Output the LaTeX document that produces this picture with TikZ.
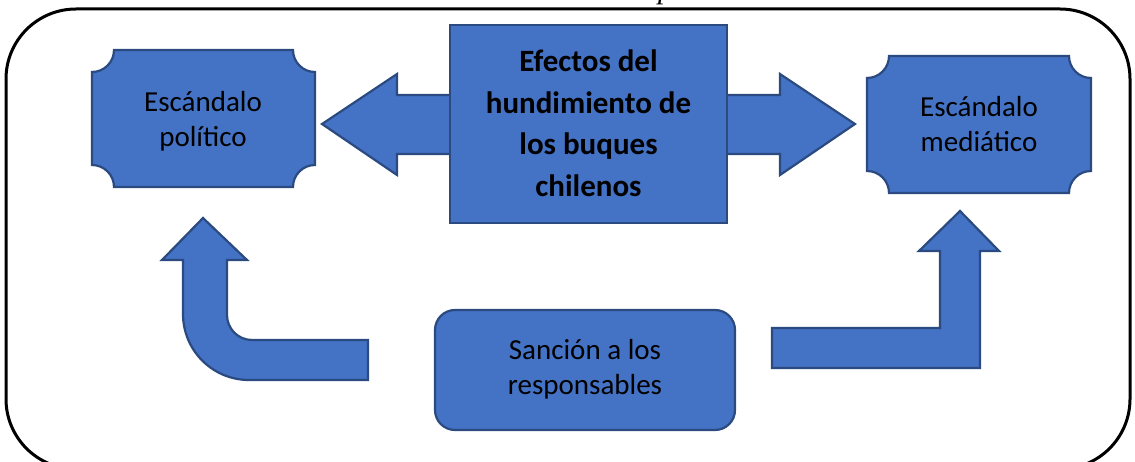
\documentclass[tikz,border=0pt]{standalone}
\usepackage{fontspec}
\setmainfont{Carlito}
\newfontfamily\serifit{Liberation Serif}
\definecolor{boxfill}{HTML}{4472C4}
\definecolor{boxline}{HTML}{2A4A80}
\begin{document}
\begin{tikzpicture}[x=1pt,y=-1pt,
  shapeblue/.style={fill=boxfill,draw=boxline,line width=2.2pt,line join=miter},
  txt/.style={align=center,inner sep=0pt,font=\fontsize{29}{35}\selectfont},
  boldtxt/.style={align=center,inner sep=0pt,font=\fontsize{31}{41.5}\selectfont\bfseries}]
\useasboundingbox (0,0) rectangle (1135,462);
% outer frame
\draw[line width=3pt,rounded corners=70pt] (6,9) rectangle (1130,469);
% cut-off italic letter above the frame
\node[anchor=base west,inner sep=0pt,font=\fontsize{30}{30}\selectfont\serifit\itshape] (ptop) at (658,-1.5) {p};
% left plaque
\draw[shapeblue] (92,72) arc[start angle=90,end angle=0,radius=22] -- (293,50)
  arc[start angle=180,end angle=90,radius=22] -- (315,165)
  arc[start angle=270,end angle=180,radius=22] -- (114,187)
  arc[start angle=0,end angle=-90,radius=22] -- cycle;
\node[txt] (pol) at (203,121) {Escándalo\\político};
% right plaque
\draw[shapeblue] (867,78) arc[start angle=90,end angle=0,radius=22] -- (1069,56)
  arc[start angle=180,end angle=90,radius=22] -- (1091,171)
  arc[start angle=270,end angle=180,radius=22] -- (889,193)
  arc[start angle=0,end angle=-90,radius=22] -- cycle;
\node[txt] (med) at (979,124) {Escándalo\\mediático};
% double arrow behind centre box
\draw[shapeblue] (322,124) -- (397,74) -- (397,95) -- (780,95) -- (780,74) -- (855,124)
  -- (780,175) -- (780,154) -- (397,154) -- (397,175) -- cycle;
% centre box
\draw[shapeblue] (450,25) rectangle (727,223);
\node[boldtxt] (efe) at (588.5,123) {Efectos del\\hundimiento de\\los buques\\chilenos};
% bottom rounded box
\draw[shapeblue,rounded corners=20pt] (435,310) rectangle (735,430);
\node[txt] (san) at (585,369) {Sanción a los\\responsables};
% left bent arrow
\draw[shapeblue] (368,340) -- (252,340) arc[start angle=90,end angle=180,radius=25]
  -- (227,260) -- (247,260) -- (203,218) -- (162,260) -- (183,260) -- (183,314)
  arc[start angle=180,end angle=90,radius=66] -- (368,380) -- cycle;
% right bent arrow
\draw[shapeblue] (772,328) -- (940,328) -- (940,251) -- (919,251) -- (960,211)
  -- (999,251) -- (980,251) -- (980,368) -- (772,368) -- cycle;
\end{tikzpicture}
\end{document}
